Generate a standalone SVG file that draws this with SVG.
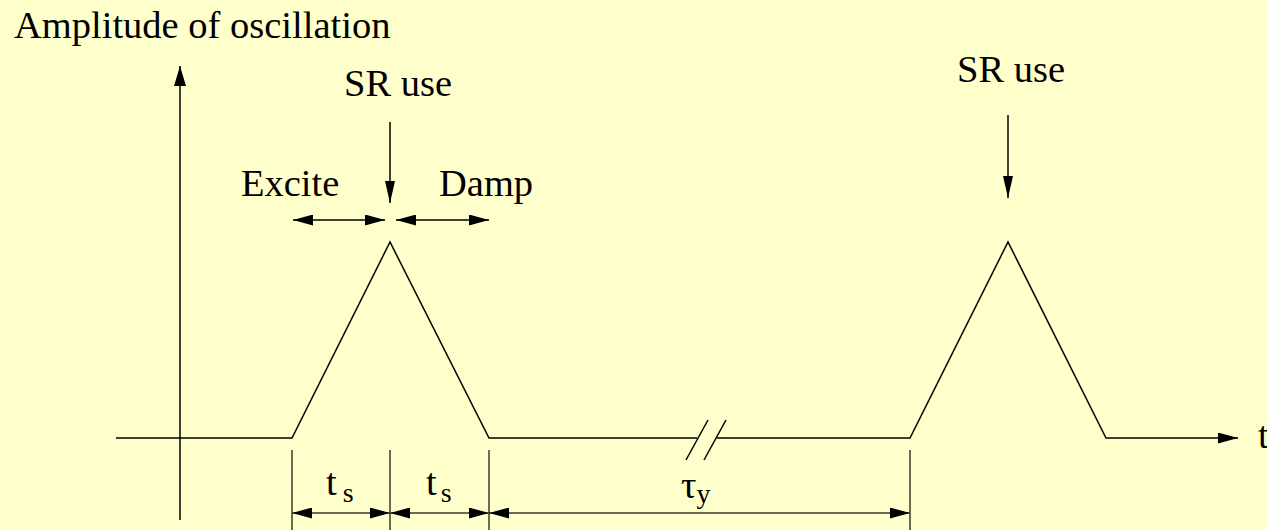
<svg xmlns="http://www.w3.org/2000/svg" width="1267" height="530" viewBox="0 0 1267 530">
<defs>
<style>
.ln{fill:none;stroke:#000;stroke-width:1.5}
.dim{fill:none;stroke:#3a3a2a;stroke-width:1.5}
text{font-family:'Liberation Serif','Times New Roman','DejaVu Serif',serif;fill:#000}
.tx{font-size:38.5px}
.sub{font-size:28px}
</style>
<marker id="ah" viewBox="0 0 20 11" refX="20" refY="5.5" markerWidth="20" markerHeight="11" markerUnits="userSpaceOnUse" orient="auto-start-reverse">
<path d="M0,0 L20,5.5 L0,11 z" fill="#000"/>
</marker>
<marker id="ahs" viewBox="0 0 22 10" refX="22" refY="5" markerWidth="22" markerHeight="10" markerUnits="userSpaceOnUse" orient="auto">
<path d="M0,0 L22,5 L0,10 z" fill="#000"/>
</marker>
<marker id="ahb" viewBox="0 0 20 12" refX="20" refY="6" markerWidth="20" markerHeight="12" markerUnits="userSpaceOnUse" orient="auto">
<path d="M0,0 L20,6 L0,12 z" fill="#000"/>
</marker>
</defs>
<rect width="1267" height="530" fill="#FFFFCC"/>

<g id="axes">
<line class="ln" x1="180" y1="520" x2="180" y2="66" marker-end="url(#ahb)"/>
<text class="tx" x="14" y="38" font-family="Liberation Serif, serif">Amplitude of oscillation</text>
<text class="tx" x="1258" y="448" font-family="Liberation Serif, serif">t</text>
</g>

<g id="waveform">
<polyline class="ln" points="116,438 292,438 390,242 489,438 697,438"/>
<polyline class="ln" points="717,438 910,438 1008,242 1106,438 1238,438" marker-end="url(#ah)"/>
<line class="ln" x1="686" y1="460" x2="708" y2="420"/>
<line class="ln" x1="704" y1="460" x2="726" y2="420"/>
</g>

<g id="sr-use-1">
<text class="tx" x="398" y="96" text-anchor="middle" font-family="Liberation Serif, serif">SR use</text>
<line class="ln" x1="390" y1="122" x2="390" y2="203" marker-end="url(#ahs)"/>
</g>

<g id="sr-use-2">
<text class="tx" x="1011" y="82" text-anchor="middle" font-family="Liberation Serif, serif">SR use</text>
<line class="ln" x1="1008" y1="115" x2="1008" y2="198" marker-end="url(#ahs)"/>
</g>

<g id="excite">
<text class="tx" x="241" y="196" font-family="Liberation Serif, serif">Excite</text>
<line class="ln" x1="293" y1="220" x2="385" y2="220" marker-start="url(#ah)" marker-end="url(#ah)"/>
</g>

<g id="damp">
<text class="tx" x="439" y="196" font-family="Liberation Serif, serif">Damp</text>
<line class="ln" x1="396" y1="220" x2="489" y2="220" marker-start="url(#ah)" marker-end="url(#ah)"/>
</g>

<g id="connectors">
<line class="dim" x1="292" y1="450" x2="292" y2="530"/>
<line class="dim" x1="390" y1="450" x2="390" y2="530"/>
<line class="dim" x1="489" y1="450" x2="489" y2="530"/>
<line class="dim" x1="910" y1="450" x2="910" y2="530"/>
<line class="dim" x1="292" y1="513" x2="390" y2="513" marker-start="url(#ah)" marker-end="url(#ah)"/>
<line class="dim" x1="390" y1="513" x2="489" y2="513" marker-start="url(#ah)" marker-end="url(#ah)"/>
<line class="dim" x1="489" y1="513" x2="910" y2="513" marker-start="url(#ah)" marker-end="url(#ah)"/>
</g>

<g id="labels">
<text class="tx" x="326" y="495" font-family="Liberation Serif, serif">t<tspan class="sub" dx="6" dy="7">s</tspan></text>
<text class="tx" x="426" y="495" font-family="Liberation Serif, serif">t<tspan class="sub" dx="4" dy="7">s</tspan></text>
<text class="tx" x="681" y="498" font-family="Liberation Serif, serif">τ<tspan class="sub" dy="5">y</tspan></text>
</g>
</svg>
